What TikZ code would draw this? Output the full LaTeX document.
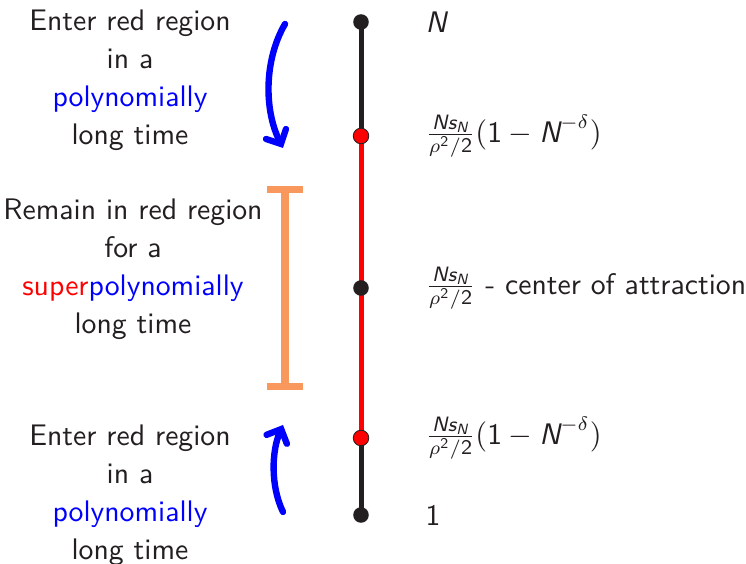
\documentclass[tikz,border=0pt]{standalone}
\usepackage{amsmath}
\renewcommand{\familydefault}{\sfdefault}
\usetikzlibrary{arrows.meta,positioning,calc}
\definecolor{dotgray}{RGB}{35,31,32}
\definecolor{barorange}{RGB}{248,152,92}
\newcommand{\sv}[1]{\text{\sffamily\itshape #1}}
\newcommand{\sn}[1]{\text{\sffamily #1}}

\begin{document}
\begin{tikzpicture}[x=0.36pt,y=-0.36pt,
    every node/.style={font=\fontsize{10.7}{13.7}\selectfont\sffamily},
    dot/.style={circle,fill=dotgray,inner sep=0pt,minimum size=5.6pt},
    reddot/.style={circle,fill=red,draw=dotgray,line width=0.3pt,inner sep=0pt,minimum size=5.6pt},
    txt/.style={align=center,text=dotgray},
    lab/.style={anchor=west,text=dotgray,inner sep=0pt},
    bluearrow/.style={blue,line width=2.3pt,line cap=round,-{Straight Barb[length=4pt,width=8pt,line cap=round]}}]
        \useasboundingbox (0,0) rectangle (746,564);
        % Axis
        \coordinate (top) at (361,22);
        \coordinate (up) at (361,136);
        \coordinate (mid) at (361,288);
        \coordinate (lo) at (361,438);
        \coordinate (bot) at (361,515);
        \draw[line width=1.8pt,dotgray] (top)--(up);
        \draw[line width=1.8pt,red] (up)--(lo);
        \draw[line width=1.8pt,dotgray] (lo)--(bot);
        \node[dot] (ntop) at (top) {};
        \node[reddot] (nup) at (up) {};
        \node[dot] (nmid) at (mid) {};
        \node[reddot] (nlo) at (lo) {};
        \node[dot] (nbot) at (bot) {};
        \node[lab] at (425,22) {\itshape N};
        \node[lab] at (425,136) {$\frac{\sv{Ns}_{\sv{N}}}{\rho^{\sn{2}}/\sn{2}}(\sn{1}-\sv{N}^{-\delta})$};
        \node[lab] at (425,288) {$\frac{\sv{Ns}_{\sv{N}}}{\rho^{\sn{2}}/\sn{2}}$ - center of attraction};
        \node[lab] at (425,438) {$\frac{\sv{Ns}_{\sv{N}}}{\rho^{\sn{2}}/\sn{2}}(\sn{1}-\sv{N}^{-\delta})$};
        \node[lab] at (425,515) {1};
        % Bar
        \coordinate (bart) at (285,186);
        \coordinate (barb) at (285,390);
        \draw[barorange,line width=2.6pt,{Bar[width=13pt]}-{Bar[width=13pt]}] (bart)--(barb);
        % Arrows
        \coordinate (a1) at (285,24);
        \coordinate (a2) at (283,148);
        \coordinate (b1) at (283,512);
        \coordinate (b2) at (283,425);
        \draw[bluearrow] (a1) .. controls (264,60) and (264,110) .. (a2);
        \draw[bluearrow] (b1) .. controls (270,485) and (272,450) .. (b2);
        % Text
        \node[txt] (t1) at (130,80) {Enter red region\\in a\\\textcolor{blue}{polynomially}\\long time};
        \node[txt] (t2) at (133,269) {Remain in red region\\for a\\\textcolor{red}{super}\textcolor{blue}{polynomially}\\long time};
        \node[txt] (t3) at (130,495) {Enter red region\\in a\\\textcolor{blue}{polynomially}\\long time};
\end{tikzpicture}
\end{document}
